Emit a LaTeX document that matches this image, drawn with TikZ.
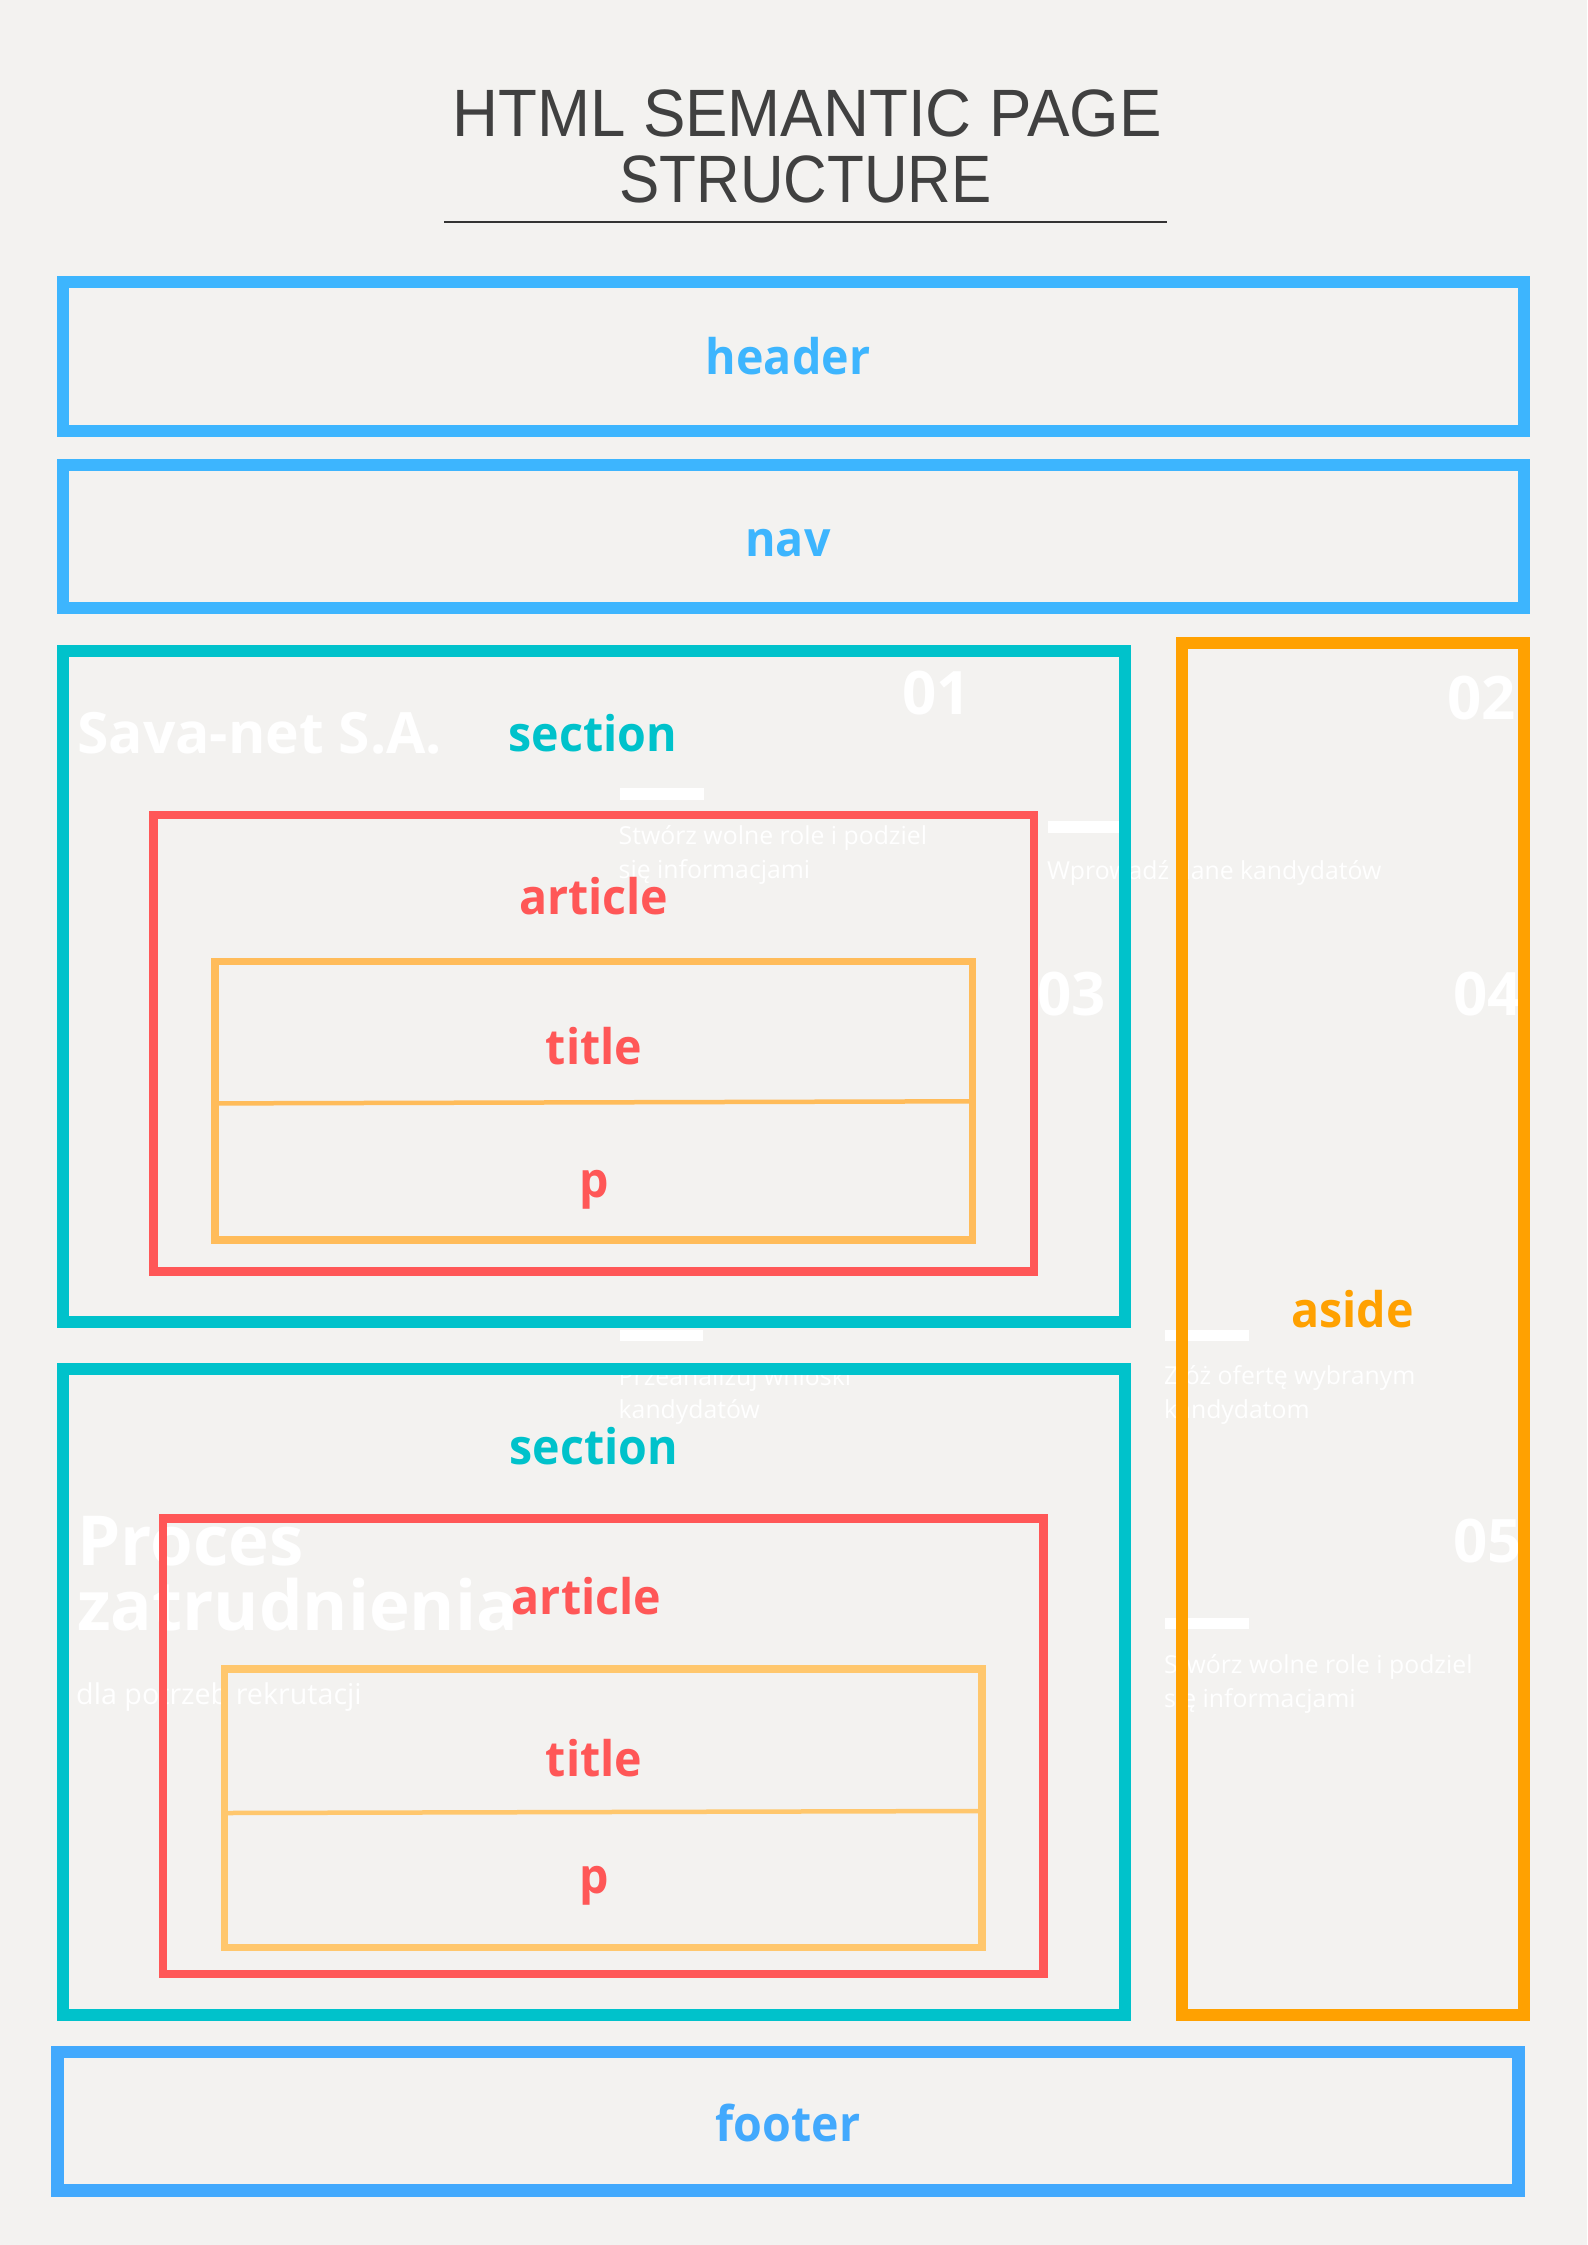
\documentclass[tikz,border=0pt]{standalone}
\usepackage{fontspec}
\setmainfont{Open Sans}
\newfontfamily\titlefontA[FakeStretch=0.95]{Liberation Sans}
\newfontfamily\titlefontB[FakeStretch=0.90]{Liberation Sans}
\newfontfamily\labelfont[FakeStretch=0.95]{Open Sans}
\definecolor{bgc}{HTML}{F3F2F0}
\definecolor{hblue}{HTML}{3DB5FE}
\definecolor{fblue}{HTML}{42A9FD}
\definecolor{scyan}{HTML}{00C2CB}
\definecolor{ared}{HTML}{FF5757}
\definecolor{tyellowA}{HTML}{FFBC5A}
\definecolor{tyellowB}{HTML}{FFC76D}
\definecolor{aorange}{HTML}{FFA101}
\definecolor{tgray}{HTML}{404040}
\begin{document}
\begin{tikzpicture}[x=1pt,y=-1pt,
  frame/.style={draw=#1, line width=12.3pt, inner sep=0pt, fill=none},
  artframe/.style={draw=ared, line width=8.7pt, inner sep=0pt},
  titleframe/.style={draw=#1, line width=7.3pt, inner sep=0pt},
  lbl/.style={font=\labelfont\bfseries\fontsize{49}{55}\selectfont, text=#1, anchor=base, inner sep=0pt},
  smalltxt/.style={font=\fontsize{24.8}{30}\selectfont, text=white, anchor=base west, inner sep=0pt},
  numtxt/.style={font=\bfseries\fontsize{60}{66}\selectfont, text=white, anchor=base west, inner sep=0pt},
  bigtxt/.style={font=\bfseries\fontsize{#1}{#1}\selectfont, text=white, anchor=base west, inner sep=0pt},
  whitebar/.style={fill=white, draw=none},
]
\useasboundingbox (0,0) rectangle (1587,2245);
\fill[bgc] (0,0) rectangle (1587,2245);

% ---- title ----
\node[font=\titlefontA\fontsize{67}{70}\selectfont, text=tgray, anchor=base, inner sep=0pt] (title1) at (807,137) {HTML SEMANTIC PAGE};
\node[font=\titlefontB\fontsize{67}{70}\selectfont, text=tgray, anchor=base, inner sep=0pt] (title2) at (805.5,203) {STRUCTURE};
\coordinate (ulA) at (444,222);
\coordinate (ulB) at (1167,222);
\draw[line width=2pt, color=tgray!80!black] (ulA) -- (ulB);

% ---- faint white decorations (behind the frames) ----
\fill[whitebar] (620,788) rectangle (704,799.5);
\fill[whitebar] (1048,821) rectangle (1130,833);
\fill[whitebar] (620,1329.5) rectangle (703,1340.5);
\fill[whitebar] (1165,1329.5) rectangle (1249,1340.5);
\fill[whitebar] (1165,1617.5) rectangle (1249,1629);

\node[numtxt] (n01) at (902,714) {01};
\node[numtxt] (n02) at (1447,719) {02};
\node[numtxt] (n03) at (1037,1015) {03};
\node[numtxt] (n04) at (1453,1015) {04};
\node[numtxt] (n05) at (1453,1562) {05};

\node[bigtxt=57] (sava) at (77,753) {Sava-net S.A.};
\node[bigtxt=69] (procA) at (77,1565) {Proces};
\node[bigtxt=69] (procB) at (77,1630) {zatrudnienia};
\node[font=\fontsize{28.7}{34}\selectfont, text=white, anchor=base west, inner sep=0pt] (dla) at (76,1704.3) {dla potrzeb rekrutacji};

\node[smalltxt] (s1a) at (618.5,844) {Stwórz wolne role i podziel};
\node[smalltxt] (s1b) at (618.5,878) {się informacjami};
\node[smalltxt] (s2a) at (1047,879) {Wprowadź dane kandydatów};
\node[smalltxt] (s3a) at (618.5,1385) {Przeanalizuj wnioski};
\node[smalltxt] (s3b) at (618.5,1418.5) {kandydatów};
\node[smalltxt] (s4a) at (1164,1384) {Złóż ofertę wybranym};
\node[smalltxt] (s4b) at (1164,1418) {kandydatom};
\node[smalltxt] (s5a) at (1164,1673.5) {Stwórz wolne role i podziel};
\node[smalltxt] (s5b) at (1164,1707) {się informacjami};

% ---- frames ----
\node[frame=hblue, minimum width=1461pt, minimum height=149pt] (header) at (793.5,356.5) {};
\node[frame=hblue, minimum width=1461pt, minimum height=143pt] (nav) at (793.5,536.5) {};
\node[frame=scyan, minimum width=1062pt, minimum height=671pt] (sec1) at (594,986.5) {};
\node[artframe, minimum width=880.3pt, minimum height=456.5pt] (art1) at (593.85,1043.25) {};
\node[titleframe=tyellowA, minimum width=757.5pt, minimum height=278.4pt] (tbox1) at (593.75,1100.8) {};
\draw[tyellowA, line width=4.5pt] (215,1103.4) -- (972.5,1101.3);
\node[frame=scyan, minimum width=1062pt, minimum height=646pt] (sec2) at (594,1692) {};
\node[artframe, minimum width=880.4pt, minimum height=455.5pt] (art2) at (603.2,1746.25) {};
\node[titleframe=tyellowB, minimum width=757.5pt, minimum height=278.7pt] (tbox2) at (603.25,1808.35) {};
\draw[tyellowB, line width=4.5pt] (224.5,1813) -- (982,1811);
\node[frame=aorange, line width=12pt, minimum width=342.3pt, minimum height=1371.5pt] (aside) at (1352.85,1328.75) {};
\node[frame=fblue, line width=12.5pt, minimum width=1461pt, minimum height=138.5pt] (footer) at (788,2121.25) {};

% ---- labels ----
\node[lbl=hblue] (lheader) at (788,374) {header};
\node[lbl=hblue] (lnav) at (788,556) {nav};
\node[lbl=scyan] (lsec1) at (593,751) {section};
\node[lbl=ared] (lart1) at (593.7,914) {article};
\node[lbl=ared] (ltitle1) at (594,1064) {title};
\node[lbl=ared] (lp1) at (594,1197) {p};
\node[lbl=scyan] (lsec2) at (594,1464) {section};
\node[lbl=ared] (lart2) at (586.5,1614) {article};
\node[lbl=ared] (ltitle2) at (594,1776) {title};
\node[lbl=ared] (lp2) at (594,1893) {p};
\node[lbl=aorange] (laside) at (1352.5,1327) {aside};
\node[lbl=fblue] (lfooter) at (788,2141) {footer};
\end{tikzpicture}
\end{document}
